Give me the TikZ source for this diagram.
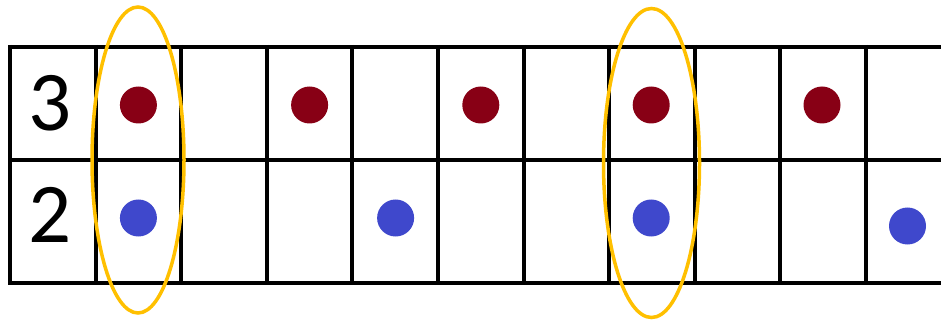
\documentclass[tikz,border=0pt]{standalone}
\usepackage{fontspec}
\setmainfont{Carlito}
\usetikzlibrary{shapes.geometric}
\definecolor{dred}{HTML}{880015}
\definecolor{dblue}{HTML}{3F48CC}
\definecolor{gold}{HTML}{FFC000}
\tikzset{
  gridline/.style={line width=4pt, black},
  reddot/.style={circle, fill=dred, minimum size=37pt, inner sep=0pt},
  bluedot/.style={circle, fill=dblue, minimum size=37pt, inner sep=0pt},
  ring/.style={ellipse, draw=gold, line width=3.5pt, inner sep=0pt},
  digit/.style={font=\fontsize{85}{85}\selectfont, inner sep=0pt}
}
\begin{document}
\begin{tikzpicture}[x=1pt,y=-1pt]
\useasboundingbox (0,0) rectangle (941,320);
\fill[white] (0,0) rectangle (941,320);
% grid
\foreach \yy in {47,160,283} \draw[gridline] (8,\yy) -- (941,\yy);
\foreach \k in {0,...,10} \draw[gridline] (10+85.6*\k,45) -- (10+85.6*\k,285);
% digits
\node[digit] (three) at (50,103) {3};
\node[digit] (two) at (50,215) {2};
% red dots
\node[reddot] (r1) at (138.4,105) {};
\node[reddot] (r3) at (309.6,105) {};
\node[reddot] (r5) at (480.8,105) {};
\node[reddot] (r7) at (651.2,105) {};
\node[reddot] (r9) at (822,105) {};
% blue dots
\node[bluedot] (b1) at (138.4,218) {};
\node[bluedot] (b4) at (395.6,218) {};
\node[bluedot] (b7) at (651.2,218) {};
\node[bluedot] (b10) at (907.5,226) {};
% ellipses
\node[ring, minimum width=92pt, minimum height=306pt] (e1) at (138,160) {};
\node[ring, minimum width=96pt, minimum height=309pt] (e2) at (651.5,163) {};
\end{tikzpicture}
\end{document}
